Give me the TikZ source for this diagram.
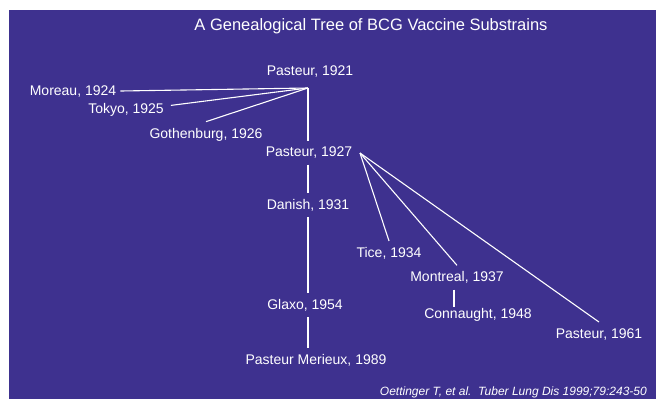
\documentclass[tikz,border=0pt]{standalone}
\usepackage{fontspec}
\setmainfont{Liberation Sans}
\usepackage{tikz}
\usetikzlibrary{calc}
\definecolor{slideblue}{RGB}{62,49,143}
\tikzset{
  strain/.style={text=white,anchor=base,inner xsep=4pt,inner ysep=6pt,
                 font=\fontsize{14}{16}\selectfont},
  headline/.style={text=white,anchor=base,font=\fontsize{16.5}{19}\selectfont},
  cite/.style={text=white,anchor=base east,inner sep=0pt,
               font=\fontsize{12}{14}\selectfont\itshape},
  link/.style={draw=white,line width=1.1pt},
}

\begin{document}
\begin{tikzpicture}[x=1pt,y=-1pt]
  \useasboundingbox (0,0) rectangle (656,399);
  \fill[white] (0,0) rectangle (656,399);
  \fill[slideblue] (9,10) rectangle (656,399);
  \node[headline] (title) at (371,30) {A Genealogical Tree of BCG Vaccine Substrains};
  % strains
  \node[strain] (p1921) at (310,75) {Pasteur, 1921};
  \node[strain] (moreau) at (73,95) {Moreau, 1924};
  \node[strain] (tokyo) at (126,113) {Tokyo, 1925};
  \node[strain] (gothenburg) at (206,138) {Gothenburg, 1926};
  \node[strain] (p1927) at (309,156.7) {Pasteur, 1927};
  \node[strain] (danish) at (308,209) {Danish, 1931};
  \node[strain] (tice) at (389,257.3) {Tice, 1934};
  \node[strain] (montreal) at (457,281.7) {Montreal, 1937};
  \node[strain] (glaxo) at (305,309) {Glaxo, 1954};
  \node[strain] (connaught) at (478,318) {Connaught, 1948};
  \node[strain] (p1961) at (599,338) {Pasteur, 1961};
  \node[strain] (merieux) at (316,364) {Pasteur Merieux, 1989};
  \node[cite] (ref) at (647,395.5) {Oettinger T, et al.\ \ Tuber Lung Dis 1999;79:243-50};
  % branching points
  \coordinate (j1) at (308,88);
  \coordinate (j2) at (360,153);
  \foreach \s in {moreau.east,gothenburg.north} \draw[link] (\s) -- (j1);
  \draw[link] ([xshift=3pt,yshift=4pt]tokyo.east) -- (j1);
  \foreach \s in {tice,montreal,p1961} \draw[link] (j2) -- (\s.north);
  \draw[link] (j1) -- (j1 |- p1927.north);
  \foreach \a/\b in {p1927/danish,danish/glaxo,glaxo/merieux}
    \draw[link] (j1 |- \a.south) -- (j1 |- \b.north);
  \draw[link] ([xshift=-3pt]montreal.south)
    -- ($(montreal.south |- connaught.north)+(-3,5)$);
\end{tikzpicture}
\end{document}
